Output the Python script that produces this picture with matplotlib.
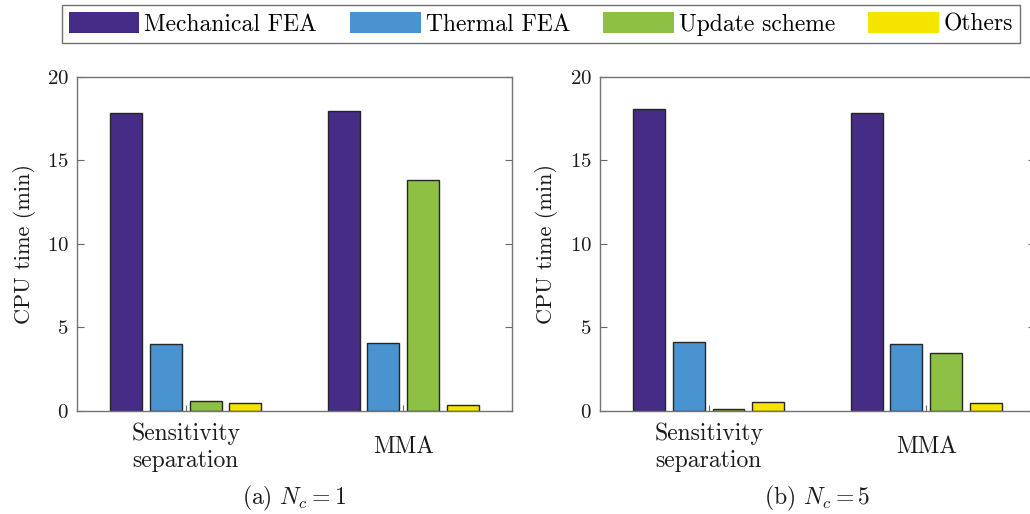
import matplotlib as mpl
mpl.rcParams.update({
    "font.family": "serif",
    "font.serif": ["cmr10"],
    "mathtext.fontset": "cm",
    "axes.formatter.use_mathtext": True,
})
import numpy as np
import matplotlib.pyplot as plt

methods = ["Sensitivity\nseparation", "MMA"]
parts = ["Mechanical FEA", "Thermal FEA", "Update scheme", "Others"]
colors = ["#452c87", "#4a93d1", "#8dc045", "#f5e300"]

# CPU time (min), rows = method, cols = part
time_nc1 = [[17.82, 4.00, 0.56, 0.48],
            [17.92, 4.07, 13.80, 0.36]]
time_nc5 = [[18.06, 4.10, 0.08, 0.54],
            [17.80, 4.02, 3.48, 0.46]]
captions = [r"(a) $N_c = 1$", r"(b) $N_c = 5$"]

fig = plt.figure(figsize=(10.3, 5.14), dpi=100)
axes = [fig.add_axes([0.0748, 0.201, 0.4223, 0.650]),
        fig.add_axes([0.5825, 0.201, 0.4223, 0.650])]

offsets = [-0.274, -0.091, 0.091, 0.274]
width = 0.147
x = np.arange(1, len(methods) + 1)

for ax, data, cap in zip(axes, [time_nc1, time_nc5], captions):
    data = np.array(data)
    for k in range(len(parts)):
        ax.bar(x + offsets[k], data[:, k], width=width, color=colors[k],
               edgecolor="0.15", linewidth=1.0, label=parts[k])
    ax.set_xlim(0.5, 2.5)
    ax.set_ylim(0, 20)
    ax.set_yticks([0, 5, 10, 15, 20])
    ax.set_xticks(x)
    ax.set_xticklabels([])
    # group labels, vertically centred like MATLAB multi-line ticks
    for xi, name in zip(x, methods):
        ax.text(xi, -0.109, name, transform=ax.get_xaxis_transform(), ha="center", va="center",
                fontsize=17, linespacing=1.3, color="0.1")
    ax.tick_params(axis="y", labelsize=15, direction="in", length=5, colors="0.4", labelcolor="0.1", right=True, pad=6)
    ax.tick_params(axis="x", direction="in", length=4, colors="0.4")
    for s in ax.spines.values():
        s.set_color("0.45")
        s.set_linewidth(1.0)
    ax.set_ylabel("CPU time (min)", fontsize=16, color="0.1", labelpad=8)
    ax.text(0.5, -0.22, cap, transform=ax.transAxes, ha="center", va="top", fontsize=17, color="0.1")

h, l = axes[0].get_legend_handles_labels()
leg = fig.legend(h, l, loc="upper center", bbox_to_anchor=(0.525, 0.99), ncol=4, fontsize=17,
                 frameon=True, fancybox=False, edgecolor="0.3", handlelength=3.0, handleheight=1.0,
                 handletextpad=0.2, columnspacing=1.4, borderpad=0.3, borderaxespad=0)
leg.get_frame().set_linewidth(1.0)
for p in leg.get_patches():
    p.set_edgecolor("none")

fig.savefig("out.png", dpi=100)
